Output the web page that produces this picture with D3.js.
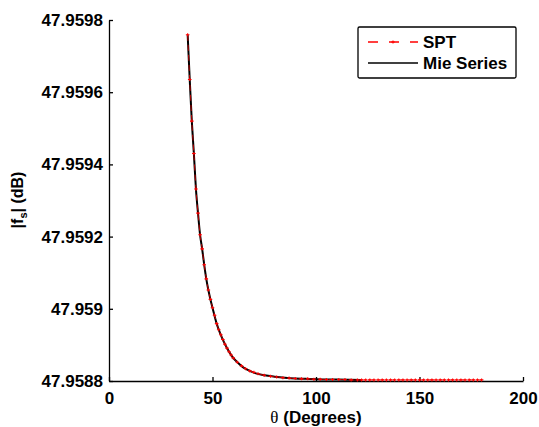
<!DOCTYPE html>
<html>
<head>
<meta charset="utf-8">
<script src="https://cdn.jsdelivr.net/npm/d3@7"></script>
<style>
  body { margin: 0; background: #fff; }
  text { font-family: "Liberation Sans", Arial, sans-serif; font-weight: bold; }
</style>
</head>
<body>
<div id="chart"></div>
<script>
// SPT (red dashed with markers)
var sptTheta = [38, 39, 40, 41, 42, 43, 44, 45, 46, 47, 48, 49, 50, 51, 52, 53, 54, 55, 56, 57,
  58, 59, 60, 62, 64, 66, 68, 70, 72, 75, 78, 81, 84, 87, 90, 93, 96, 99, 102, 105, 108,
  111, 114, 117, 120, 122, 124, 126, 128, 130, 132, 134, 136, 138, 140, 142, 144, 146, 148,
  150, 152, 154, 156, 158, 160, 162, 164, 166, 168, 170, 172, 174, 176, 178, 180];
var sptValue = [47.959759, 47.959635, 47.959520, 47.959430, 47.959332, 47.959265, 47.959205,
  47.959166, 47.959122, 47.959083, 47.959052, 47.959026, 47.959003, 47.958982, 47.958959,
  47.958942, 47.958928, 47.958915, 47.958902, 47.958891, 47.958881, 47.958872, 47.958864,
  47.958852, 47.958842, 47.958834, 47.958828, 47.958824, 47.958820, 47.958816, 47.958813,
  47.958811, 47.958809, 47.958808, 47.958807, 47.958806, 47.958806, 47.958805, 47.958805,
  47.958804, 47.958804, 47.958804, 47.958804, 47.958803, 47.958803, 47.958803, 47.958803,
  47.958803, 47.958803, 47.958803, 47.958803, 47.958803, 47.958803, 47.958803, 47.958803,
  47.958803, 47.958803, 47.958803, 47.958803, 47.958803, 47.958803, 47.958803, 47.958803,
  47.958803, 47.958803, 47.958803, 47.958803, 47.958803, 47.958803, 47.958803, 47.958803,
  47.958803, 47.958803, 47.958803, 47.958803];

// Mie series (black solid)
var mieTheta = [38, 39, 40, 41, 42, 43, 44, 45, 46, 47, 48, 49, 50, 52, 54, 56, 58, 60, 62, 65,
  68, 71, 75, 80, 85, 90, 95, 100, 110, 122];
var mieValue = [47.959759, 47.959635, 47.959520, 47.959430, 47.959332, 47.959265, 47.959205,
  47.959166, 47.959122, 47.959083, 47.959052, 47.959026, 47.959003, 47.958959, 47.958928,
  47.958902, 47.958881, 47.958864, 47.958852, 47.958837, 47.958828, 47.958821, 47.958816,
  47.958812, 47.958809, 47.958807, 47.958806, 47.958805, 47.958804, 47.958803];

var xTicks = [0, 50, 100, 150, 200];
var yTicks = [47.9588, 47.959, 47.9592, 47.9594, 47.9596, 47.9598];
var legendNames = ["SPT", "Mie Series"];

let width = 539;
let height = 427;

let svg = d3.select("#chart").append("svg")
  .attr("width", width)
  .attr("height", height);

let x = d3.scaleLinear().domain([0, 200]).range([109, 523]);
let y = d3.scaleLinear().domain([47.9588, 47.9598]).range([381, 20]);

// axes, ticks point inward
svg.append("g")
  .attr("transform", "translate(0,381)")
  .call(d3.axisBottom(x).tickValues(xTicks).tickSize(-4).tickSizeOuter(0).tickPadding(11))
  .call(g => g.selectAll("text").attr("font-size", 17).attr("fill", "#000").style("font-family", null));

svg.append("g")
  .attr("transform", "translate(109,0)")
  .call(d3.axisLeft(y).tickValues(yTicks).tickSize(-4).tickSizeOuter(0).tickPadding(6)
    .tickFormat(d => String(+d.toFixed(4))))
  .call(g => g.selectAll("text").attr("font-size", 17).attr("fill", "#000").style("font-family", null));

svg.selectAll(".domain, .tick line").attr("stroke", "#000").attr("stroke-width", 1.3);

let mieData = mieTheta.map((t, i) => [t, mieValue[i]]);
let sptData = sptTheta.map((t, i) => [t, sptValue[i]]);

let line = d3.line()
  .x(d => x(d[0]))
  .y(d => y(d[1]))
  .curve(d3.curveMonotoneX);

// Mie series
svg.append("path")
  .datum(mieData)
  .attr("d", line)
  .attr("fill", "none")
  .attr("stroke", "#000")
  .attr("stroke-width", 2);

// SPT on top: thin dashed line + small plus markers
svg.append("path")
  .datum(sptData)
  .attr("d", line)
  .attr("fill", "none")
  .attr("stroke", "#ff0000")
  .attr("stroke-width", 0.7)
  .attr("stroke-dasharray", "6,4");

svg.append("g").selectAll("path")
  .data(sptData)
  .enter().append("path")
  .attr("transform", d => "translate(" + x(d[0]) + "," + y(d[1]) + ")")
  .attr("d", "M-1.8,0H1.8M0,-1.5V1.5")
  .attr("stroke", "#ff0000")
  .attr("stroke-width", 1.1);

// axis titles
let xt = svg.append("text")
  .attr("x", 316)
  .attr("y", 423)
  .attr("text-anchor", "middle")
  .attr("font-size", 17);
xt.append("tspan").text("θ").style("font-family", "'Liberation Serif', serif").style("font-weight", "normal");
xt.append("tspan").text(" (Degrees)");

let yt = svg.append("text")
  .attr("transform", "translate(23,200) rotate(-90)")
  .attr("text-anchor", "middle")
  .attr("font-size", 16);
yt.append("tspan").text("|f");
yt.append("tspan").text("s").attr("font-size", 11).attr("dy", 4);
yt.append("tspan").text("| (dB)").attr("dy", -4);

// legend
let legend = svg.append("g");
legend.append("rect")
  .attr("x", 358).attr("y", 27)
  .attr("width", 158).attr("height", 51)
  .attr("rx", 1.5)
  .attr("fill", "#fff")
  .attr("stroke", "#000")
  .attr("stroke-width", 1.3);

legendNames.forEach((name, i) => {
  let ly = 42 + 21 * i;
  if (i == 0) {
    legend.append("line")
      .attr("x1", 368).attr("x2", 418).attr("y1", ly).attr("y2", ly)
      .attr("stroke", "#ff0000").attr("stroke-width", 1.3)
      .attr("stroke-dasharray", "10,11");
    legend.append("path")
      .attr("transform", "translate(393," + ly + ")")
      .attr("d", "M-1.8,0H1.8M0,-1.5V1.5")
      .attr("stroke", "#ff0000").attr("stroke-width", 1.1);
  } else {
    legend.append("line")
      .attr("x1", 368).attr("x2", 418).attr("y1", ly).attr("y2", ly)
      .attr("stroke", "#000").attr("stroke-width", 1.3);
  }
  legend.append("text")
    .attr("x", 423).attr("y", ly)
    .attr("dy", "0.36em")
    .attr("font-size", 17)
    .text(name);
});
</script>
</body>
</html>
